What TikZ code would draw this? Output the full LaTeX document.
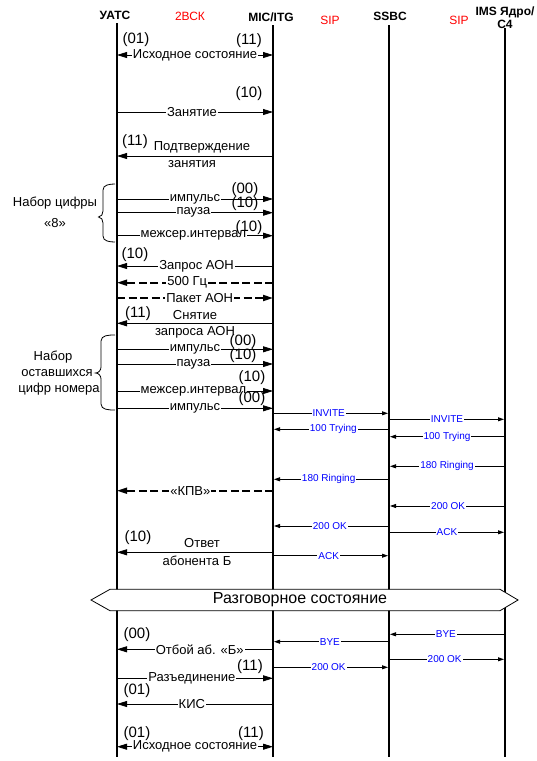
\documentclass[tikz,border=0pt]{standalone}
\usepackage{fontspec}
\setmainfont{Liberation Sans}
\usetikzlibrary{arrows.meta}
\definecolor{sipblue}{RGB}{0,0,255}
\definecolor{hdrred}{RGB}{255,0,0}
\newcommand\fsz[1]{\fontsize{#1}{#1}\selectfont}
\begin{document}
\begin{tikzpicture}[x=1pt,y=-1pt,
  life/.style={line width=1.6pt},
  sig/.style={line width=0.8pt,-{Triangle[length=10pt,width=6pt]}},
  sigb/.style={line width=0.8pt,{Triangle[length=10pt,width=6pt]}-{Triangle[length=10pt,width=6pt]}},
  dsig/.style={sig,line width=1.8pt,dash pattern=on 8pt off 3.5pt},
  sip/.style={line width=0.8pt,-{Triangle[length=6pt,width=4pt]},shorten >=1pt},
  lbl/.style={fill=white,inner sep=1pt,font=\fsz{13}},
  txt/.style={inner sep=0pt,font=\fsz{13}},
  siplbl/.style={fill=white,inner sep=1pt,text=sipblue,font=\fsz{10}},
  num/.style={inner sep=0pt,font=\fsz{15}},
  hdr/.style={inner sep=0pt,font=\fontsize{12}{13}\selectfont\bfseries,align=center},
  redhdr/.style={inner sep=0pt,font=\fsz{12},text=hdrred}]
\useasboundingbox (0,0) rectangle (536,761);
% headers
\node[hdr] (hUA) at (115,15) {УАТС};
\node[redhdr] (r1) at (190,16) {2ВСК};
\node[hdr] (hMI) at (271,17) {MIC/ITG};
\node[redhdr] (r2) at (330,20) {SIP};
\node[hdr] (hSS) at (390,16) {SSBC};
\node[redhdr] (r3) at (459,20) {SIP};
\node[hdr] (hIM) at (505,17.5) {IMS Ядро/\\С4};
% lifelines
\coordinate (UA) at (117,0);
\coordinate (MI) at (273,0);
\coordinate (SS) at (389,0);
\coordinate (IM) at (505,0);
\coordinate (UAt) at (117,23); \coordinate (UAb) at (117,757);
\coordinate (MIt) at (273,25); \coordinate (MIb) at (273,757);
\coordinate (SSt) at (389,25); \coordinate (SSb) at (389,757);
\coordinate (IMt) at (505,28); \coordinate (IMb) at (505,757);
\draw[life] (UAt) -- (UAb);
\draw[life] (MIt) -- (MIb);
\draw[life] (SSt) -- (SSb);
\draw[life] (IMt) -- (IMb);
% Исходное состояние
\draw[sigb] (UA |- 0,55) -- node[lbl]{Исходное состояние} (MI |- 0,55);
\node[num] (n1) at (136,40) {(01)};
\node[num] (n2) at (249,41) {(11)};
% Занятие
\draw[sig] (UA |- 0,112) -- node[lbl,pos=0.48]{Занятие} (MI |- 0,112);
\node[num] (n3) at (249,94) {(10)};
% Подтверждение
\draw[sig] (MI |- 0,156) -- (UA |- 0,156);
\node[txt] (t1) at (202,147) {Подтверждение};
\node[txt] (t2) at (192,164) {занятия};
\node[num] (n4) at (135,142) {(11)};
% Набор цифры 8
\draw[sig] (UA |- 0,199) -- node[lbl]{импульс} (MI |- 0,199);
\node[num] (n5) at (245,190) {(00)};
\draw[sig] (UA |- 0,212.7) -- node[lbl,pos=0.49]{пауза} (MI |- 0,212.7);
\node[num] (n6) at (245,204) {(10)};
\draw[sig] (UA |- 0,235.7) -- node[lbl,pos=0.49]{межсер.интервал} (MI |- 0,235.7);
\node[num] (n7) at (249,228) {(10)};
\draw[line width=0.8pt] (115,184) to[out=180,in=90] (103,190) -- (103,211) to[out=270,in=0] (98.5,217) to[out=0,in=90] (103,223) -- (103,236) to[out=270,in=180] (115,242);
\node[txt] (b1a) at (55,203) {Набор цифры};
\node[txt] (b1b) at (55,223) {«8»};
% Запрос АОН
\draw[sig] (MI |- 0,266) -- node[lbl,pos=0.49]{Запрос АОН} (UA |- 0,266);
\node[num] (n8) at (135,255) {(10)};
\draw[dsig] (MI |- 0,282.7) -- node[lbl,pos=0.55]{500 Гц} (UA |- 0,282.7);
\draw[dsig] (UA |- 0,298) -- node[lbl,pos=0.53]{Пакет АОН} (MI |- 0,298);
% Снятие запроса АОН
\draw[sig] (MI |- 0,323.3) -- (UA |- 0,323.3);
\node[txt] (t3) at (195,315) {Снятие};
\node[txt] (t4) at (195,332) {запроса АОН};
\node[num] (n9) at (138,314) {(11)};
% Набор оставшихся цифр
\draw[sig] (UA |- 0,349.3) -- node[lbl]{импульс} (MI |- 0,349.3);
\node[num] (n10) at (243,342) {(00)};
\draw[sig] (UA |- 0,364) -- node[lbl,pos=0.49]{пауза} (MI |- 0,364);
\node[num] (n11) at (243,356) {(10)};
\draw[sig] (UA |- 0,391) -- node[lbl,pos=0.49]{межсер.интервал} (MI |- 0,391);
\node[num] (n12) at (252,378) {(10)};
\draw[sig] (UA |- 0,408.3) -- node[lbl]{импульс} (MI |- 0,408.3);
\node[num] (n13) at (252,399) {(00)};
\draw[line width=0.8pt] (115,335) to[out=180,in=90] (101,341) -- (101,367) to[out=270,in=0] (95.5,373) to[out=0,in=90] (101,379) -- (101,404) to[out=270,in=180] (115,410);
\node[txt] (b2a) at (53,357) {Набор};
\node[txt] (b2b) at (57,373) {оставшихся};
\node[txt] (b2c) at (59,389) {цифр номера};
% SIP
\draw[sip] (MI |- 0,413.3) -- node[siplbl,pos=0.48]{INVITE} (SS |- 0,413.3);
\draw[sip] (SS |- 0,419.3) -- node[siplbl]{INVITE} (IM |- 0,419.3);
\draw[sip] (SS |- 0,429.3) -- node[siplbl,pos=0.48]{100 Trying} (MI |- 0,429.3);
\draw[sip] (IM |- 0,436.7) -- node[siplbl]{100 Trying} (SS |- 0,436.7);
\draw[sip] (IM |- 0,466.3) -- node[siplbl]{180 Ringing} (SS |- 0,466.3);
\draw[sip] (SS |- 0,479.3) -- node[siplbl,pos=0.52]{180 Ringing} (MI |- 0,479.3);
\draw[dsig] (MI |- 0,490.7) -- node[lbl,pos=0.53]{«КПВ»} (UA |- 0,490.7);
\draw[sip] (IM |- 0,506) -- node[siplbl,pos=0.49]{200 OK} (SS |- 0,506);
\draw[sip] (SS |- 0,526) -- node[siplbl,pos=0.51]{200 OK} (MI |- 0,526);
\draw[sip] (SS |- 0,532.3) -- node[siplbl]{ACK} (IM |- 0,532.3);
% Ответ абонента Б
\draw[sig] (MI |- 0,552.3) -- (UA |- 0,552.3);
\node[txt] (t5) at (202,543) {Ответ};
\node[txt] (t6) at (197,561) {абонента Б};
\node[num] (n14) at (138,538) {(10)};
\draw[sip] (MI |- 0,555.7) -- node[siplbl,pos=0.48]{ACK} (SS |- 0,555.7);
% Разговорное состояние
\fill[white] (91,600) -- (110,589.3) -- (500,589.3) -- (518,600) -- (500,610.7) -- (110,610.7) -- cycle;
\draw[line width=0.8pt] (91,600) -- (110,589.3) -- (500,589.3) -- (518,600) -- (500,610.7) -- (110,610.7) -- cycle;
\node[inner sep=0pt,font=\fsz{16}] (conv) at (300,600) {Разговорное состояние};
% release
\draw[sip] (IM |- 0,634.3) -- node[siplbl,pos=0.51]{BYE} (SS |- 0,634.3);
\draw[sip] (SS |- 0,641.7) -- node[siplbl,pos=0.51]{BYE} (MI |- 0,641.7);
\draw[sig] (MI |- 0,649.3) -- node[lbl,pos=0.47]{Отбой аб. «Б»} (UA |- 0,649.3);
\node[num] (n15) at (137,635) {(00)};
\draw[sip] (SS |- 0,659.3) -- node[siplbl,pos=0.48]{200 OK} (IM |- 0,659.3);
\draw[sip] (MI |- 0,667.3) -- node[siplbl,pos=0.48]{200 OK} (SS |- 0,667.3);
\draw[sig] (UA |- 0,678.3) -- node[lbl,pos=0.48]{Разъединение} (MI |- 0,678.3);
\node[num] (n16) at (250,667) {(11)};
\draw[sig] (MI |- 0,704) -- node[lbl,pos=0.52]{КИС} (UA |- 0,704);
\node[num] (n17) at (137,691) {(01)};
\draw[sigb] (UA |- 0,746.7) -- node[lbl]{Исходное состояние} (MI |- 0,746.7);
\node[num] (n18) at (137,733.5) {(01)};
\node[num] (n19) at (251,733.5) {(11)};
\end{tikzpicture}
\end{document}
